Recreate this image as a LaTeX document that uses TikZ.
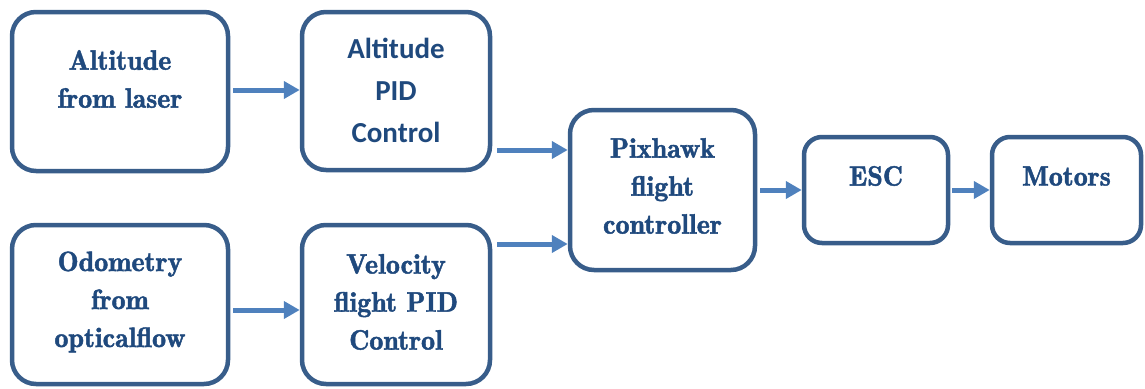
\documentclass[tikz,border=0pt]{standalone}
\usepackage{fontspec}
\newfontfamily\tnr{lmromandemi10-regular}[Extension=.otf,FakeBold=1.6]
\newfontfamily\calib{Carlito}
\usetikzlibrary{arrows.meta,calc}
\definecolor{boxline}{HTML}{385D8A}
\definecolor{txt}{HTML}{1F497D}
\definecolor{arrc}{HTML}{4F81BD}
\begin{document}
\begin{tikzpicture}[x=1pt,y=-1pt,
  blk/.style={draw=boxline,line width=4.5pt,rounded corners=24pt,fill=white,inner sep=0pt},
  lbl/.style={text=txt,align=center,inner sep=0pt,font=\tnr\fontsize{28}{38}\selectfont},
  lbls/.style={text=txt,align=center,inner sep=0pt,font=\calib\fontsize{29}{42}\selectfont\bfseries},
  arr/.style={draw=arrc,line width=5pt,-{Triangle[length=16pt,width=17pt]}}]
\useasboundingbox (0,0) rectangle (1145,388);
% boxes
\node[blk,minimum width=216pt,minimum height=159pt] (altlaser) at (120,91.5) {};
\node[blk,minimum width=188pt,minimum height=158pt] (altpid) at (396,91) {};
\node[blk,minimum width=216pt,minimum height=159pt] (odo) at (120,304.5) {};
\node[blk,minimum width=188pt,minimum height=159pt] (vel) at (396,304.5) {};
\node[blk,minimum width=185pt,minimum height=160pt] (pix) at (662.5,190) {};
\node[blk,rounded corners=18pt,minimum width=144pt,minimum height=106pt] (esc) at (876,190) {};
\node[blk,rounded corners=18pt,minimum width=149pt,minimum height=106pt] (mot) at (1066.5,190) {};
% labels
\node[lbl] (t1) at (120,79) {Altitude\\from laser};
\node[lbls] (t2) at (396,90) {Altitude\\PID\\Control};
\node[lbl] (t3) at (120,302) {Odometry\\from\\opticalflow};
\node[lbl] (t4) at (396,302) {Velocity\\flight PID\\Control};
\node[lbl] (t5) at (662.5,186) {Pixhawk\\flight\\controller};
\node[lbl] (t6) at (876,176) {ESC};
\node[lbl] (t7) at (1066.5,176) {Motors};
% connectors
\coordinate (s1) at ($(altlaser.east)+(3,-1.5)$);
\draw[arr] (s1) -- (s1 -| altpid.west);
\coordinate (s2) at ($(altpid.east)+(5,59)$);
\draw[arr] (s2) -- (s2 -| pix.west);
\coordinate (s3) at ($(vel.east)+(5,-60.5)$);
\draw[arr] (s3) -- (s3 -| pix.west);
\coordinate (s4) at ($(odo.east)+(3,5.5)$);
\draw[arr] (s4) -- (s4 -| vel.west);
\coordinate (s5) at ($(pix.east)+(3,0)$);
\draw[arr] (s5) -- (esc.west);
\coordinate (s6) at ($(esc.east)+(2,0)$);
\draw[arr] (s6) -- (mot.west);
\end{tikzpicture}
\end{document}
